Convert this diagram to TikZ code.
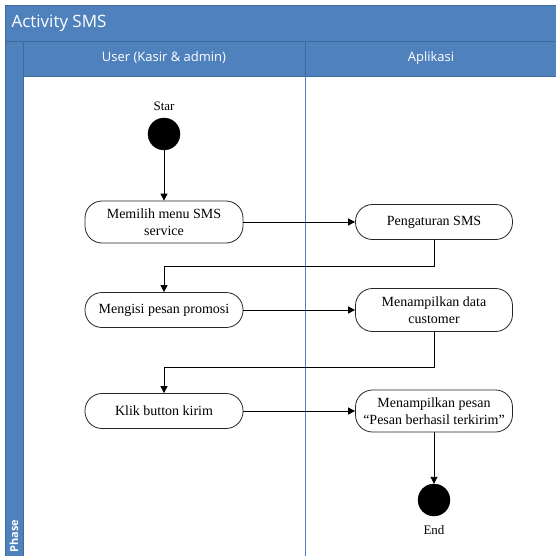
\documentclass[tikz,border=0pt]{standalone}
\usepackage{fontspec}
\setmainfont{Liberation Serif}
\newfontfamily\hdrfont{Open Sans}
\usetikzlibrary{arrows.meta,calc}
\definecolor{laneblue}{HTML}{4F81BD}
\definecolor{laneedge}{HTML}{3E6B9C}
\tikzset{
  act/.style={draw=black!85, line width=0.8pt, fill=white, rounded corners=17pt,
    minimum width=158pt, align=center, inner sep=2pt,
    font=\fontsize{14}{17}\selectfont},
  dot/.style={circle, fill=black, draw=black, minimum size=32pt, inner sep=0pt},
  flow/.style={draw=black, line width=0.9pt, -{Triangle[length=7pt,width=7pt]}},
  band/.style={fill=laneblue, draw=laneedge, line width=0.8pt},
  hdr/.style={text=white, font=\hdrfont\fontsize{13}{15}\selectfont},
  lbl/.style={font=\fontsize{13}{15}\selectfont}
}
\begin{document}
\begin{tikzpicture}[x=1pt,y=-1pt]
\useasboundingbox (0,0) rectangle (556,556);
\fill[white] (0,0) rectangle (556,556);
% swimlane frame
\draw[band] (5,5) rectangle (560,41);
\draw[band] (23,41) rectangle (305,76);
\draw[band] (305,41) rectangle (560,76);
\draw[band] (5,41) rectangle (23,560);
\draw[laneblue, line width=0.9pt] (305,76) -- (305,556);
\node[anchor=west, text=white, font=\hdrfont\fontsize{17}{19}\selectfont] (title) at (8,23) {Activity SMS};
\node[hdr] (h1) at (164,58) {User (Kasir \& admin)};
\node[hdr] (h2) at (431,58) {Aplikasi};
\node[rotate=90, anchor=west, text=white, font=\hdrfont\bfseries\fontsize{11}{13}\selectfont] (phase) at (14,556) {Phase};
% nodes
\node[lbl] (starlbl) at (164,106) {Star};
\node[dot] (start) at (164,134) {};
\node[act, minimum height=42pt] (n1) at (164,222) {Memilih menu SMS\\service};
\node[act, minimum height=35pt, minimum width=157pt] (p1) at (434,222) {Pengaturan SMS};
\node[act, minimum height=35pt] (n2) at (164,310) {Mengisi pesan promosi};
\node[act, minimum height=43pt, minimum width=157pt] (p2) at (434,310) {Menampilkan data\\customer};
\node[act, minimum height=35pt] (n3) at (164,411) {Klik button kirim};
\node[act, minimum height=42pt, minimum width=157pt] (p3) at (434,411) {Menampilkan pesan\\``Pesan berhasil terkirim''};
\node[dot] (end) at (434,500) {};
\node[lbl] (endlbl) at (434,530) {End};
\coordinate (b1) at (434,266);
\coordinate (b2) at (434,367);
% connectors
\draw[flow] (start) -- (n1);
\draw[flow] (n1) -- (p1);
\draw[flow] (p1.south) -- (b1) -| (n2.north);
\draw[flow] (n2) -- (p2);
\draw[flow] (p2.south) -- (b2) -| (n3.north);
\draw[flow] (n3) -- (p3);
\draw[flow] (p3) -- (end);
\end{tikzpicture}
\end{document}
